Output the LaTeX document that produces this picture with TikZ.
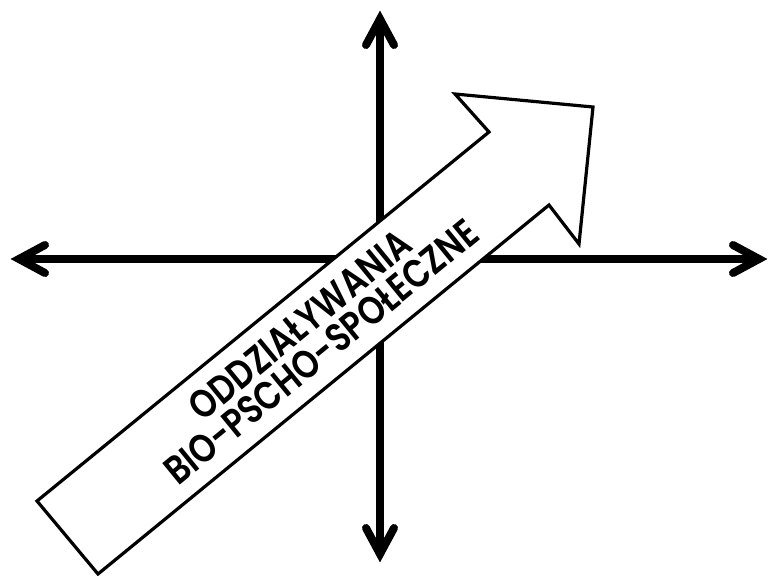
\documentclass[tikz,border=0pt]{standalone}
\usepackage{fontspec}
\setmainfont{Poppins}[BoldFont={Poppins SemiBold}]
\newcommand{\tallcaps}[1]{\scalebox{0.95}[1.15]{#1}}
\begin{document}
\begin{tikzpicture}[x=1pt,y=-1pt,
  axis/.style={line width=8pt,line cap=round,line join=miter,miter limit=10},
  bigarrow/.style={draw=black,fill=white,line width=3.2pt,line join=miter,miter limit=10},
  lbl/.style={font=\bfseries\fontsize{34.5}{36}\selectfont,rotate=39.3,inner sep=0pt,anchor=center}]
\useasboundingbox (0,0) rectangle (769,576);
% axes
\coordinate (L) at (19,259);
\coordinate (R) at (759,259);
\coordinate (T) at (380,19);
\coordinate (B) at (380,554);
\draw[axis] (L) -- (R);
\draw[axis] (T) -- (B);
\draw[axis] (45,245) -- (L) -- (45,273);
\draw[axis] (733,245) -- (R) -- (733,273);
\draw[axis] (366,45) -- (T) -- (394,45);
\draw[axis] (366,528) -- (B) -- (394,528);
% big arrow
\coordinate (a1) at (37,501);
\coordinate (a2) at (489,132);
\coordinate (a3) at (455,94);
\coordinate (a4) at (593,107);
\coordinate (a5) at (579,244);
\coordinate (a6) at (549,205);
\coordinate (a7) at (98,574);
\draw[bigarrow] (a1) -- (a2) -- (a3) -- (a4) -- (a5) -- (a6) -- (a7) -- cycle;
\node[lbl] (t1) at (300,325) {\tallcaps{ODDZIAŁYWANIA}};
\node[lbl] (t2) at (321,352) {\tallcaps{BIO-PSCHO-SPOŁECZNE}};
\end{tikzpicture}
\end{document}
